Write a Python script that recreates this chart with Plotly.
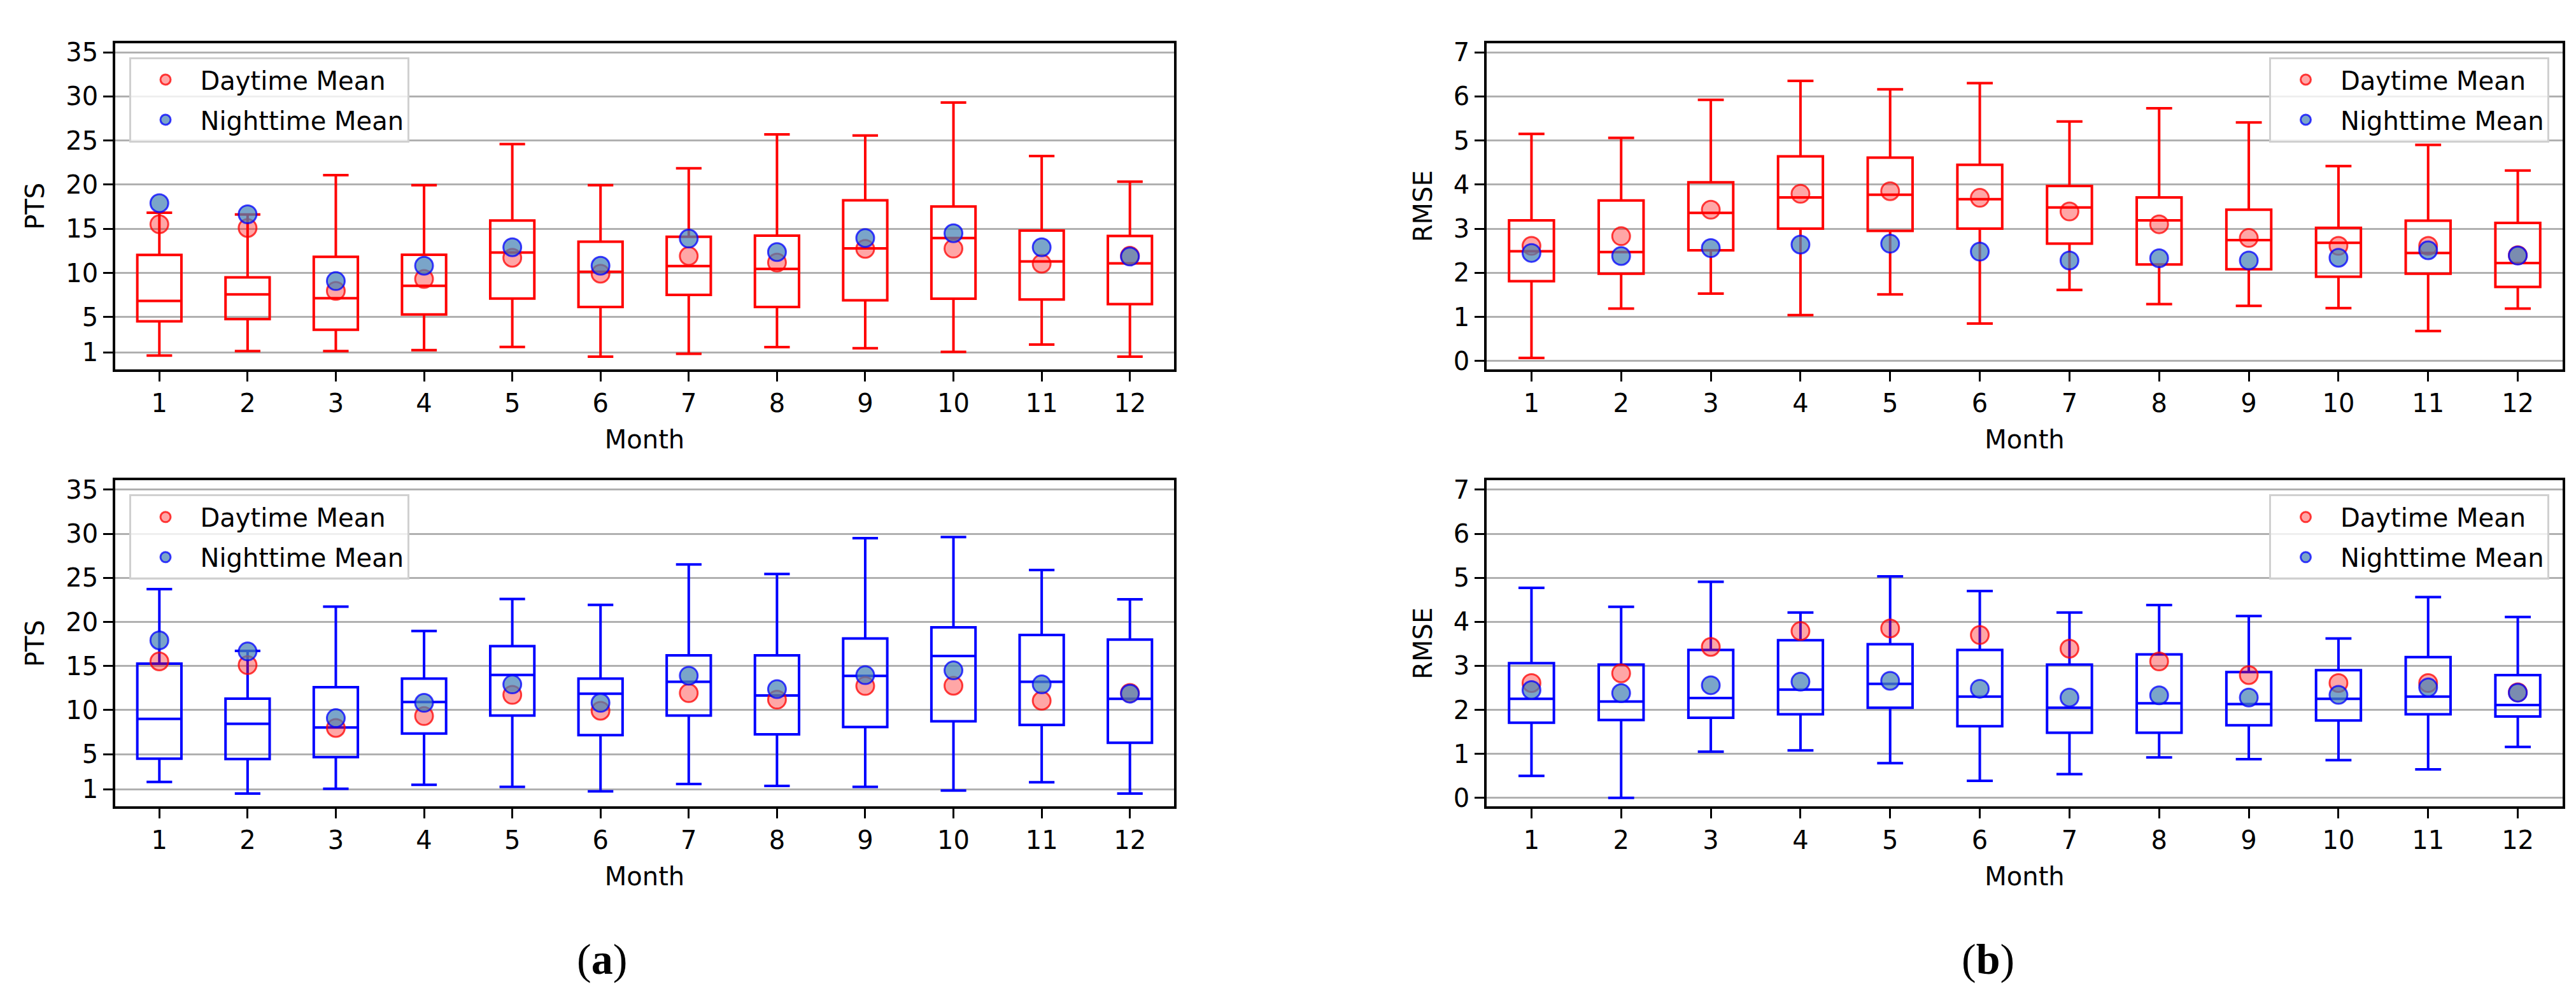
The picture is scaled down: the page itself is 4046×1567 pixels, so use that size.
import plotly.graph_objects as go

months = list(range(1, 13))

# ---------- (a) PTS ----------
pts_day_mean = [15.52, 15.10, 7.97, 9.32, 11.72, 9.92, 11.92, 11.18, 12.73, 12.76, 11.06, 11.95]
pts_night_mean = [17.91, 16.65, 9.08, 10.82, 12.91, 10.82, 13.90, 12.37, 13.96, 14.50, 12.91, 11.86]

# daytime box statistics (red, top)
pts_day_low = [0.64, 1.15, 1.15, 1.27, 1.63, 0.52, 0.85, 1.60, 1.48, 1.06, 1.90, 0.52]
pts_day_q1 = [4.53, 4.77, 3.57, 5.31, 7.11, 6.15, 7.52, 6.15, 6.90, 7.08, 6.99, 6.48]
pts_day_med = [6.84, 7.58, 7.14, 8.54, 12.31, 10.13, 10.79, 10.46, 12.79, 13.96, 11.30, 11.09]
pts_day_q3 = [12.04, 9.50, 11.83, 12.07, 15.94, 13.54, 14.11, 14.23, 18.24, 17.52, 14.80, 14.20]
pts_day_up = [16.83, 16.62, 21.08, 19.95, 24.59, 19.95, 21.86, 25.69, 25.57, 29.31, 23.24, 20.34]

# nighttime box statistics (blue, bottom)
pts_night_low = [1.84, 0.52, 1.06, 1.52, 1.29, 0.77, 1.61, 1.39, 1.29, 0.87, 1.81, 0.52]
pts_night_q1 = [4.48, 4.45, 4.67, 7.34, 9.37, 7.15, 9.37, 7.25, 8.08, 8.73, 8.31, 6.28]
pts_night_med = [8.99, 8.44, 8.02, 10.92, 13.98, 11.85, 13.20, 11.66, 13.88, 16.13, 13.20, 11.27]
pts_night_q3 = [15.26, 11.30, 12.59, 13.56, 17.26, 13.56, 16.20, 16.20, 18.13, 19.39, 18.52, 18.00]
pts_night_up = [23.73, 16.71, 21.74, 18.97, 22.61, 21.93, 26.53, 25.44, 29.50, 29.63, 25.89, 22.57]

# ---------- (b) RMSE ----------
rmse_day_mean = [2.61, 2.83, 3.43, 3.79, 3.85, 3.70, 3.39, 3.10, 2.79, 2.61, 2.61, 2.40]
rmse_night_mean = [2.45, 2.38, 2.56, 2.64, 2.66, 2.48, 2.28, 2.33, 2.28, 2.34, 2.51, 2.39]

rmse_day_low = [0.07, 1.19, 1.53, 1.04, 1.51, 0.85, 1.61, 1.29, 1.25, 1.20, 0.68, 1.19]
rmse_day_q1 = [1.81, 1.98, 2.51, 3.00, 2.95, 3.00, 2.66, 2.19, 2.08, 1.91, 1.98, 1.68]
rmse_day_med = [2.49, 2.47, 3.36, 3.71, 3.77, 3.67, 3.48, 3.19, 2.74, 2.68, 2.45, 2.22]
rmse_day_q3 = [3.19, 3.64, 4.05, 4.64, 4.61, 4.45, 3.97, 3.71, 3.43, 3.02, 3.18, 3.13]
rmse_day_up = [5.15, 5.06, 5.92, 6.35, 6.16, 6.30, 5.43, 5.73, 5.41, 4.42, 4.90, 4.32]

rmse_night_low = [0.50, 0.00, 1.05, 1.08, 0.79, 0.39, 0.54, 0.92, 0.88, 0.86, 0.65, 1.16]
rmse_night_q1 = [1.71, 1.77, 1.82, 1.90, 2.05, 1.63, 1.48, 1.48, 1.65, 1.76, 1.90, 1.85]
rmse_night_med = [2.25, 2.19, 2.27, 2.46, 2.59, 2.30, 2.05, 2.15, 2.13, 2.25, 2.30, 2.11]
rmse_night_q3 = [3.06, 3.03, 3.36, 3.58, 3.49, 3.36, 3.03, 3.26, 2.86, 2.90, 3.20, 2.79]
rmse_night_up = [4.77, 4.34, 4.91, 4.21, 5.03, 4.70, 4.21, 4.38, 4.13, 3.62, 4.56, 4.11]

pts_ticks = [1, 5, 10, 15, 20, 25, 30, 35]
rmse_ticks = [0, 1, 2, 3, 4, 5, 6, 7]

FONT = "DejaVu Sans"
FS = 40

fig = go.Figure()

panels = [
    ("", "legend", "red", (pts_day_low, pts_day_q1, pts_day_med, pts_day_q3, pts_day_up), pts_day_mean, pts_night_mean),
    ("2", "legend2", "blue", (pts_night_low, pts_night_q1, pts_night_med, pts_night_q3, pts_night_up), pts_day_mean, pts_night_mean),
    ("3", "legend3", "red", (rmse_day_low, rmse_day_q1, rmse_day_med, rmse_day_q3, rmse_day_up), rmse_day_mean, rmse_night_mean),
    ("4", "legend4", "blue", (rmse_night_low, rmse_night_q1, rmse_night_med, rmse_night_q3, rmse_night_up), rmse_day_mean, rmse_night_mean),
]

for suf, leg, col, (lo, q1, med, q3, up), dmean, nmean in panels:
    xa = "x" + suf
    ya = "y" + suf
    fig.add_trace(go.Box(
        x=months, lowerfence=lo, q1=q1, median=med, q3=q3, upperfence=up,
        width=0.5, whiskerwidth=0.58, boxpoints=False,
        line=dict(color=col, width=4), fillcolor="rgba(0,0,0,0)",
        showlegend=False, hoverinfo="skip", xaxis=xa, yaxis=ya,
    ))
    fig.add_trace(go.Scatter(
        x=months, y=dmean, mode="markers", name="Daytime Mean",
        legendgroup="day" + suf,
        marker=dict(size=28, color="rgba(255,0,0,0.35)",
                    line=dict(color="rgba(255,0,0,0.75)", width=3)),
        legend=leg, xaxis=xa, yaxis=ya,
    ))
    fig.add_trace(go.Scatter(
        x=months, y=nmean, mode="markers", name="Nighttime Mean",
        legendgroup="night" + suf,
        marker=dict(size=28, color="rgba(70,130,180,0.72)",
                    line=dict(color="rgba(0,0,255,0.75)", width=3)),
        legend=leg, xaxis=xa, yaxis=ya,
    ))

W, H = 4046, 1567
xl = [173 / W, 1836 / W]
xr = [2327 / W, 4017 / W]
yt = [1 - 572 / H, 1 - 59.5 / H]
yb = [1 - 1258 / H, 1 - 746.4 / H]


def xaxis(domain, anchor):
    return dict(
        domain=domain, anchor=anchor, range=[0.5, 12.5],
        tickmode="array", tickvals=months,
        ticks="outside", ticklen=15, tickwidth=3, tickcolor="black",
        showline=True, linecolor="black", linewidth=3.5, mirror=True,
        showgrid=False, zeroline=False, automargin=False,
        tickfont=dict(family=FONT, size=FS, color="black"),
        title=dict(text="Month", font=dict(family=FONT, size=FS, color="black"), standoff=22),
    )


def yaxis(domain, anchor, rng, ticks, title):
    return dict(
        domain=domain, anchor=anchor, range=rng,
        tickmode="array", tickvals=ticks,
        ticks="outside", ticklen=15, tickwidth=3, tickcolor="black",
        showline=True, linecolor="black", linewidth=3.5, mirror=True,
        showgrid=True, gridcolor="#b0b0b0", gridwidth=3, zeroline=False,
        automargin=False,
        tickfont=dict(family=FONT, size=FS, color="black"),
        title=dict(text=title, font=dict(family=FONT, size=FS, color="black"), standoff=22),
    )


def legend(x, y, xanchor):
    return dict(
        x=x, y=y, xanchor=xanchor, yanchor="top",
        bgcolor="rgba(255,255,255,0.8)", bordercolor="#d0d0d0", borderwidth=3,
        font=dict(family=FONT, size=FS, color="black"),
        itemwidth=99, tracegroupgap=8,
    )


fig.update_layout(
    width=W, height=H,
    margin=dict(l=0, r=0, t=0, b=0),
    paper_bgcolor="white", plot_bgcolor="white",
    font=dict(family=FONT, size=FS, color="black"),
    xaxis=xaxis(xl, "y"),
    yaxis=yaxis(yt, "x", [-0.92, 36.05], pts_ticks, "PTS"),
    xaxis2=xaxis(xl, "y2"),
    yaxis2=yaxis(yb, "x2", [-0.92, 36.05], pts_ticks, "PTS"),
    xaxis3=xaxis(xr, "y3"),
    yaxis3=yaxis(yt, "x3", [-0.19, 7.21], rmse_ticks, "RMSE"),
    xaxis4=xaxis(xr, "y4"),
    yaxis4=yaxis(yb, "x4", [-0.19, 7.21], rmse_ticks, "RMSE"),
    legend=legend(194.5 / W, 1 - 81.5 / H, "left"),
    legend2=legend(194.5 / W, 1 - 768.3 / H, "left"),
    legend3=legend(3996 / W, 1 - 81.5 / H, "right"),
    legend4=legend(3996 / W, 1 - 768.3 / H, "right"),
    annotations=[
        dict(text="(<b>a</b>)", x=937 / W, y=1 - 1498 / H, xref="paper", yref="paper",
             xanchor="center", yanchor="middle", showarrow=False,
             font=dict(family="Liberation Serif", size=68, color="black")),
        dict(text="(<b>b</b>)", x=3114 / W, y=1 - 1498 / H, xref="paper", yref="paper",
             xanchor="center", yanchor="middle", showarrow=False,
             font=dict(family="Liberation Serif", size=68, color="black")),
    ],
)

fig.write_html("out.html")
